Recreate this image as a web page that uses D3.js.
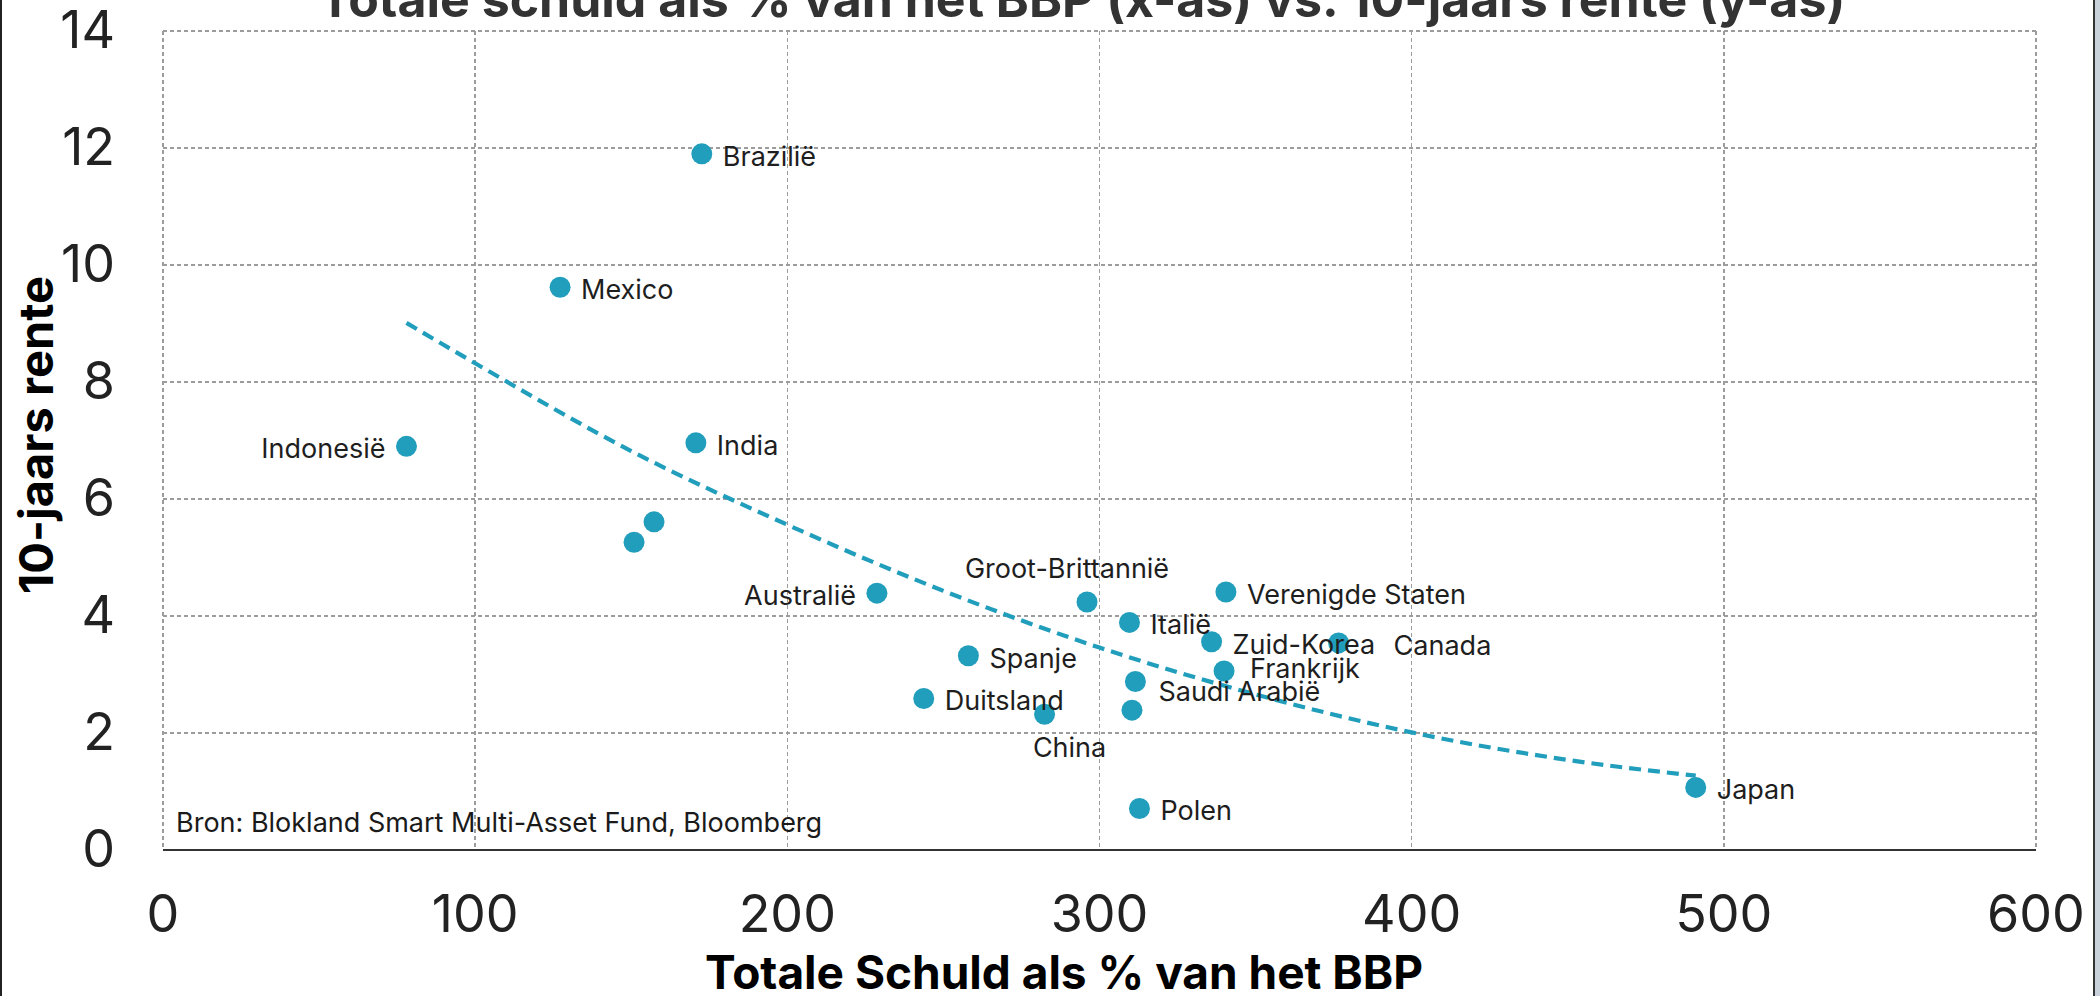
<!doctype html>
<html>
<head>
<meta charset="utf-8">
<script src="https://d3js.org/d3.v7.min.js"></script>
<style>
  body { margin:0; background:#fff; }
  svg { display:block; font-family: Inter, "Noto Sans", sans-serif; }
  .grid line { stroke:#9c9c9c; stroke-width:1.4; stroke-dasharray:4,3; shape-rendering:crispEdges; }
  .tick-label { font-size:52px; fill:#222; }
  .country { font-size:27px; fill:#1e1e1e; }
</style>
</head>
<body>
<script>
// values
var countries = ["Brazilië","Mexico","India","Indonesië","","","Australië","Groot-Brittannië","Italië","Verenigde Staten","Zuid-Korea","Canada","Frankrijk","Saudi Arabië","","Spanje","Duitsland","China","Polen","Japan"];
var debtPct  = [172.6,127.2,170.7,78.0,157.3,150.9,228.7,296.0,309.6,340.5,335.9,376.6,339.9,311.5,310.4,258.0,243.7,282.4,312.8,491.0];
var yield10y = [11.9,9.62,6.96,6.9,5.61,5.26,4.39,4.24,3.89,4.41,3.56,3.54,3.06,2.88,2.39,3.32,2.59,2.32,0.71,1.07];
var labelSide = ["right","right","right","left","none","none","left","above","right","right","right","right","right","right","none","right","right","below","right","right"];

// dashed trend line, read at a few x positions
var trendX = [78,100,150,200,250,300,350,400,450,491];
var trendY = [9.01,8.32,6.82,5.56,4.43,3.46,2.66,2.01,1.54,1.27];

var xTicks = [0,100,200,300,400,500,600];
var yTicks = [0,2,4,6,8,10,12,14];

var title = "Totale schuld als % van het BBP (x-as) vs. 10-jaars rente (y-as)";
var xTitle = "Totale Schuld als % van het BBP";
var yTitle = "10-jaars rente";
var source = "Bron: Blokland Smart Multi-Asset Fund, Bloomberg";

var width = 2100, height = 996;
var plotL = 163, plotR = 2036, plotT = 31, plotB = 850;
var blue = "#219ebc";

var svg = d3.select("body").append("svg").attr("width", width).attr("height", height);
svg.append("rect").attr("width", width).attr("height", height).attr("fill", "#fff");

var x = d3.scaleLinear().domain([0, 600]).range([plotL, plotR]);
var y = d3.scaleLinear().domain([0, 14]).range([plotB, plotT]);

// grid
var grid = svg.append("g").attr("class", "grid");
grid.selectAll(".gy").data(yTicks.filter(d => d > 0)).enter().append("line")
  .attr("x1", plotL).attr("x2", plotR).attr("y1", d => y(d)).attr("y2", d => y(d));
grid.selectAll(".gx").data(xTicks).enter().append("line")
  .attr("y1", plotT).attr("y2", plotB).attr("x1", d => x(d)).attr("x2", d => x(d));

// bottom axis line
svg.append("line").attr("x1", plotL).attr("x2", plotR).attr("y1", plotB).attr("y2", plotB)
  .attr("stroke", "#333").attr("stroke-width", 2);

// tick labels
svg.selectAll(".xt").data(xTicks).enter().append("text").attr("class", "tick-label")
  .attr("x", d => x(d)).attr("y", 932).attr("text-anchor", "middle").text(d => d);
svg.selectAll(".yt").data(yTicks).enter().append("text").attr("class", "tick-label")
  .attr("x", 115).attr("y", d => y(d) + 17).attr("text-anchor", "end").text(d => d);

// trend line
var line = d3.line().x((d, i) => x(trendX[i])).y(d => y(d)).curve(d3.curveMonotoneX);
svg.append("path").attr("d", line(trendY)).attr("fill", "none")
  .attr("stroke", blue).attr("stroke-width", 4.2).attr("stroke-dasharray", "12,7");

// points
var pts = countries.map((c, i) => ({name: c, x: debtPct[i], y: yield10y[i], side: labelSide[i]}));
svg.selectAll(".pt").data(pts).enter().append("circle")
  .attr("cx", d => x(d.x)).attr("cy", d => y(d.y)).attr("r", 10.5).attr("fill", blue);

// labels (a few were moved by hand in the original)
var nudge = {"Groot-Brittannië":[-20,0], "China":[25,0], "Canada":[34,0], "Saudi Arabië":[2,7], "Frankrijk":[5,-5]};
svg.selectAll(".country").data(pts.filter(d => d.side != "none")).enter().append("text")
  .attr("class", "country")
  .attr("x", function(d) {
    var n = nudge[d.name] ? nudge[d.name][0] : 0;
    if (d.side == "right") return x(d.x) + 21 + n;
    if (d.side == "left") return x(d.x) - 21 + n;
    return x(d.x) + n;
  })
  .attr("y", function(d) {
    var n = nudge[d.name] ? nudge[d.name][1] : 0;
    if (d.side == "above") return y(d.y) - 24 + n;
    if (d.side == "below") return y(d.y) + 43 + n;
    return y(d.y) + 12 + n;
  })
  .attr("text-anchor", d => d.side == "left" ? "end" : (d.side == "right" ? "start" : "middle"))
  .text(d => d.name);

// source note
svg.append("text").attr("x", 176).attr("y", 832).style("font-size", "27px").attr("fill", "#1a1a1a").text(source);

// titles
svg.append("text").attr("x", 1082).attr("y", 17).attr("text-anchor", "middle")
  .style("font-size", "50px").style("font-weight", "bold").attr("fill", "#333").text(title);
svg.append("text").attr("x", 1064).attr("y", 989).attr("text-anchor", "middle")
  .style("font-size", "46px").style("font-weight", "bold").attr("fill", "#000").text(xTitle);
svg.append("text").attr("transform", "translate(53,435) rotate(-90)").attr("text-anchor", "middle")
  .style("font-size", "47px").style("font-weight", "bold").attr("fill", "#000").text(yTitle);

// window frame edges
svg.append("rect").attr("x", 0).attr("y", 0).attr("width", 2).attr("height", height).attr("fill", "#222");
svg.append("rect").attr("x", 2093).attr("y", 0).attr("width", 2).attr("height", height).attr("fill", "#333");
svg.append("rect").attr("x", 2095).attr("y", 0).attr("width", 5).attr("height", height).attr("fill", "#c9d2da");
</script>
</body>
</html>
